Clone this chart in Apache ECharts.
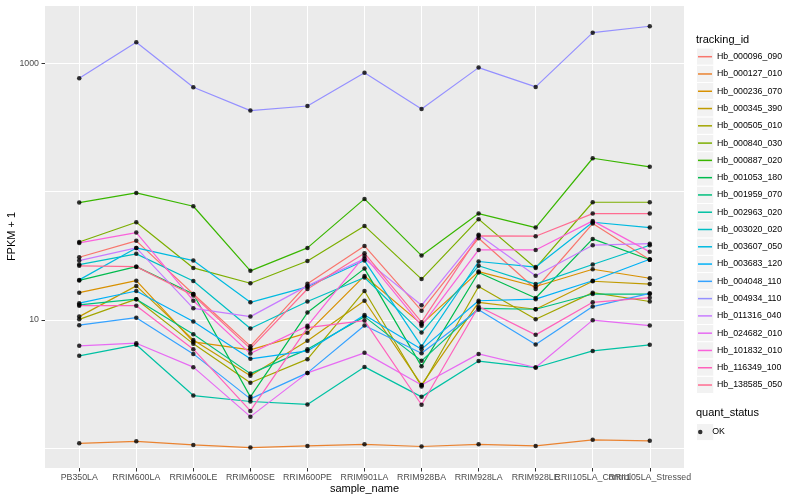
<!DOCTYPE html>
<html><head><meta charset="utf-8">
<script src="https://cdn.jsdelivr.net/npm/echarts@6/dist/echarts.min.js"></script>
<style>html,body{margin:0;padding:0;background:#fff}#c{width:800px;height:500px}</style>
</head><body><div id="c"></div>
<script>
// ---- data ----
const sampleNames = ['PB350LA','RRIM600LA','RRIM600LE','RRIM600SE','RRIM600PE','RRIM901LA','RRIM928BA','RRIM928LA','RRIM928LE','RRII105LA_Control','RRII105LA_Stressed'];
const trackingIds = ['Hb_000096_090','Hb_000127_010','Hb_000236_070','Hb_000345_390','Hb_000505_010','Hb_000840_030','Hb_000887_020','Hb_001053_180','Hb_001959_070','Hb_002963_020','Hb_003020_020','Hb_003607_050','Hb_003683_120','Hb_004048_110','Hb_004934_110','Hb_011316_040','Hb_024682_010','Hb_101832_010','Hb_116349_100','Hb_138585_050'];
const Hb_000096_090 = [30.8, 41.3, 15.9, 6.24, 19.1, 37.7, 11.8, 43.3, 17.4, 56.3, 29.4];
const Hb_000127_010 = [1.09, 1.13, 1.06, 1.01, 1.04, 1.07, 1.03, 1.07, 1.04, 1.16, 1.14];
const Hb_000236_070 = [16.3, 20.2, 6.74, 5.84, 7.92, 22.0, 9.26, 23.8, 18.2, 24.8, 21.1];
const Hb_000345_390 = [10.6, 18.4, 6.98, 3.66, 6.86, 14.1, 3.11, 13.7, 12.1, 20.0, 19.0];
const Hb_000505_010 = [10.1, 14.5, 6.50, 3.23, 4.94, 16.8, 3.02, 18.2, 10.1, 16.3, 13.9];
const Hb_000840_030 = [40.5, 57.7, 25.4, 19.3, 28.8, 54.0, 20.8, 61.0, 25.4, 82.6, 82.6];
const Hb_000887_020 = [82.1, 97.7, 76.9, 24.1, 36.4, 87.7, 31.7, 67.4, 52.4, 182, 156];
const Hb_001053_180 = [20.3, 26.0, 15.9, 2.51, 11.4, 25.1, 4.34, 23.4, 14.8, 42.8, 29.4];
const Hb_001959_070 = [13.1, 14.5, 7.74, 3.81, 5.89, 10.6, 4.79, 12.3, 12.1, 15.9, 15.9];
const Hb_002963_020 = [5.24, 6.39, 2.57, 2.31, 2.19, 4.30, 2.51, 4.77, 4.25, 5.73, 6.39];
const Hb_003020_020 = [27.0, 32.7, 20.1, 8.56, 13.9, 21.4, 7.96, 26.4, 19.0, 27.0, 38.2];
const Hb_003607_050 = [20.5, 36.4, 29.0, 13.7, 18.1, 29.0, 6.21, 28.5, 25.8, 57.7, 52.4];
const Hb_003683_120 = [13.5, 16.8, 9.7, 4.97, 5.73, 10.9, 5.91, 14.1, 14.5, 20.2, 29.7];
const Hb_004048_110 = [9.09, 10.4, 5.43, 2.42, 3.86, 9.03, 5.50, 12.0, 6.42, 12.7, 16.1];
const Hb_004934_110 = [765, 1459, 651, 428, 465, 846, 441, 926, 655, 1734, 1946];
const Hb_011316_040 = [29.0, 36.4, 12.3, 10.6, 18.4, 29.9, 13.0, 46.0, 22.1, 38.2, 39.3];
const Hb_024682_010 = [6.27, 6.58, 4.28, 1.76, 3.86, 5.53, 3.11, 5.43, 4.25, 9.95, 9.03];
const Hb_101832_010 = [39.8, 47.9, 14.1, 5.46, 8.98, 31.5, 8.98, 35.1, 35.1, 59.1, 33.9];
const Hb_116349_100 = [12.9, 12.9, 5.91, 1.95, 8.71, 9.87, 2.18, 12.7, 7.64, 13.7, 14.9];
const Hb_138585_050 = [26.4, 26.0, 15.5, 5.97, 17.4, 33.1, 9.6, 45.2, 44.9, 67.4, 67.4];
const seriesValues = [Hb_000096_090, Hb_000127_010, Hb_000236_070, Hb_000345_390, Hb_000505_010, Hb_000840_030, Hb_000887_020, Hb_001053_180, Hb_001959_070, Hb_002963_020, Hb_003020_020, Hb_003607_050, Hb_003683_120, Hb_004048_110, Hb_004934_110, Hb_011316_040, Hb_024682_010, Hb_101832_010, Hb_116349_100, Hb_138585_050];
const quantStatus = ['OK'];
const yTickValues = [10, 1000];
const yMin = 0.7, yMax = 2850;

// ---- style ----
const palette = ['#F8766D','#EA8331','#D89000','#C09B00','#A3A500','#7CAE00','#39B600','#00BB4E','#00BF7D','#00C1A3','#00BFC4','#00BAE0','#00B0F6','#35A2FF','#9590FF','#C77CFF','#E76BF3','#FA62DB','#FF62BC','#FF6C91'];
const FONT = '"Liberation Sans", Arial, Helvetica, sans-serif';
const idx = sampleNames.map((_, i) => i);
const evenIdx = idx.filter(i => i % 2 === 0);
const oddIdx = idx.filter(i => i % 2 === 1);
const keyTop = 48, keyStep = 17.28;

const lineSeries = trackingIds.map((id, k) => ({
  name: id, type: 'line', xAxisIndex: 0, yAxisIndex: 0,
  data: seriesValues[k].map((v, i) => [i, v]),
  showSymbol: false, symbol: 'none',
  lineStyle: { color: palette[k], width: 1.2 },
  itemStyle: { color: palette[k] },
  emphasis: { disabled: true }, silent: true, z: 2
}));
const pointSeries = {
  name: quantStatus[0], type: 'scatter', xAxisIndex: 0, yAxisIndex: 0,
  data: [].concat(...seriesValues.map(vals => vals.map((v, i) => [i, v]))),
  symbol: 'circle', symbolSize: 4.5, itemStyle: { color: '#000' },
  emphasis: { disabled: true }, silent: true, z: 3
};

const keyRects = trackingIds.map((id, k) => ({
  type: 'rect', silent: true, z: 0,
  shape: { x: 696.5, y: keyTop + k * keyStep, width: 17.3, height: keyStep },
  style: { fill: '#F2F2F2', stroke: '#fff', lineWidth: 1 }
}));
keyRects.push({
  type: 'rect', silent: true, z: 0,
  shape: { x: 696.5, y: 423.4, width: 17.3, height: keyStep },
  style: { fill: '#F2F2F2', stroke: '#fff', lineWidth: 1 }
});

const labelStyle = { color: '#4D4D4D', fontSize: 8.8, margin: 5, fontFamily: FONT, hideOverlap: false, showMinLabel: true, showMaxLabel: true,
  formatter: v => sampleNames[Math.round(v)] || '' };

const chart = echarts.init(document.getElementById('c'), null, { renderer: 'canvas' });
chart.setOption({
  animation: false,
  backgroundColor: '#fff',
  textStyle: { fontFamily: FONT },
  grid: { left: 45, right: 116, top: 5, bottom: 32, show: true, backgroundColor: '#EBEBEB', borderWidth: 0, containLabel: false, outerBoundsMode: 'none' },
  title: [
    { text: 'tracking_id', left: 696, top: 34.5, padding: 0, textStyle: { fontSize: 11, fontWeight: 'normal', color: '#000', fontFamily: FONT } },
    { text: 'quant_status', left: 696, top: 407.5, padding: 0, textStyle: { fontSize: 11, fontWeight: 'normal', color: '#000', fontFamily: FONT } }
  ],
  legend: [
    { data: trackingIds, orient: 'vertical', left: 698, top: 50.7, padding: 0, itemGap: 5.28,
      icon: 'rect', itemWidth: 14, itemHeight: 1.5, selectedMode: false,
      textStyle: { fontSize: 8.8, color: '#000', lineHeight: 12, fontFamily: FONT } },
    { data: quantStatus, orient: 'vertical', left: 698, top: 426, padding: 0,
      icon: 'circle', itemWidth: 14, itemHeight: 4.5, symbolKeepAspect: true, selectedMode: false,
      textStyle: { fontSize: 8.8, color: '#000', lineHeight: 12, fontFamily: FONT } }
  ],
  graphic: keyRects,
  xAxis: [
    { type: 'value', min: -0.6, max: 10.6, position: 'bottom',
      axisLine: { show: false, onZero: false },
      axisTick: { show: true, customValues: idx, length: 3.5, lineStyle: { color: '#333', width: 1 } },
      axisLabel: Object.assign({ customValues: evenIdx }, labelStyle),
      splitLine: { show: true, lineStyle: { color: '#fff', width: 1.07 } },
      name: 'sample_name', nameLocation: 'middle', nameGap: 15.5, nameMoveOverlap: false,
      nameTextStyle: { fontSize: 11, color: '#000', fontFamily: FONT } },
    { type: 'value', min: -0.6, max: 10.6, position: 'bottom', offset: 0,
      axisLine: { show: false, onZero: false },
      axisTick: { show: false },
      axisLabel: Object.assign({ customValues: oddIdx }, labelStyle),
      splitLine: { show: false } }
  ],
  yAxis: [
    { type: 'log', logBase: 10, min: yMin, max: yMax,
      axisLine: { show: false, onZero: false }, axisTick: { show: false }, axisLabel: { show: false },
      splitLine: { show: true, lineStyle: { color: '#fff', width: 1.07 } } },
    { type: 'value', min: Math.log10(yMin), max: Math.log10(yMax), position: 'left',
      axisLine: { show: false, onZero: false },
      axisTick: { show: true, customValues: yTickValues.map(v => Math.log10(v)), length: 3.5, lineStyle: { color: '#333', width: 1 } },
      axisLabel: { customValues: yTickValues.map(v => Math.log10(v)), formatter: v => String(Math.round(Math.pow(10, v))), color: '#4D4D4D', fontSize: 8.8, margin: 6, fontFamily: FONT, showMinLabel: true, showMaxLabel: true },
      splitLine: { show: false },
      name: 'FPKM + 1', nameLocation: 'middle', nameGap: 27.5, nameRotate: 90, nameMoveOverlap: false,
      nameTextStyle: { fontSize: 11, color: '#000', fontFamily: FONT } }
  ],
  series: lineSeries.concat([pointSeries])
});
</script>
</body></html>
